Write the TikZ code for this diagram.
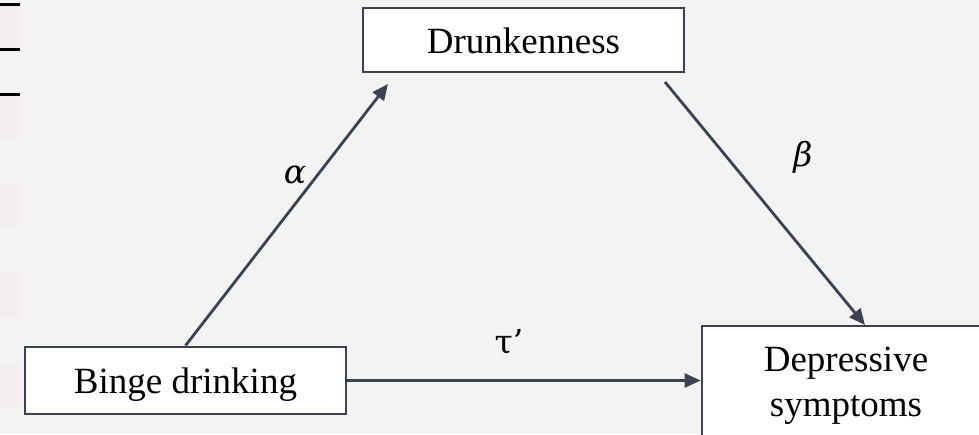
\documentclass[tikz,border=0pt]{standalone}
\usepackage{fontspec}
\setmainfont{Liberation Serif}
\newfontfamily\greekfont{DejaVu Serif}
\usetikzlibrary{arrows.meta}
\definecolor{linec}{HTML}{3D4251}
\definecolor{bgc}{HTML}{F3F3F3}
\definecolor{pinkc}{HTML}{F3EEEE}
\begin{document}
\begin{tikzpicture}[x=1pt,y=-1pt,
  boxbase/.style={draw=linec, line width=2.8pt, fill=white, font=\fontsize{37}{45}\selectfont, inner sep=0pt},
  box/.style={boxbase, text height=26pt, text depth=0pt},
  conn/.style={draw=linec, line width=2.8pt, -{Triangle[length=16pt,width=14pt]}},
  greek/.style={font=\greekfont\fontsize{33}{38}\selectfont, inner sep=0pt}]
\useasboundingbox (0,0) rectangle (979,434);
\clip (0,0) rectangle (979,434);
\fill[bgc] (0,0) rectangle (979,434);
\foreach \y in {4,94,183,273,363} \fill[pinkc] (0,\y) rectangle (19,\y+45);
\foreach \y in {4,49,94} \draw[black, line width=3pt] (0,\y) -- (20,\y);

\node[box, minimum width=321pt, minimum height=64pt] (drunk) at (523.5,40) {Drunkenness};
\node[box, minimum width=321pt, minimum height=67pt] (binge) at (185.5,380.5) {Binge drinking};
\node[boxbase, minimum width=288pt, minimum height=120pt, align=center] (dep) at (846,386) {Depressive\\symptoms};

\coordinate (atip) at (388,84);
\coordinate (bstart) at (665,82);
\coordinate (btip) at (865,325);
\draw[conn] (binge.north) -- (atip);
\draw[conn] (bstart) -- (btip);
\draw[conn] (binge.east) -- (binge.east -| dep.west);

\node[greek] (alpha) at (295,175) {\itshape α};
\node[greek] (beta) at (803,157) {\itshape β};
\node[greek] (tau) at (509,342) {τ’};
\end{tikzpicture}
\end{document}
